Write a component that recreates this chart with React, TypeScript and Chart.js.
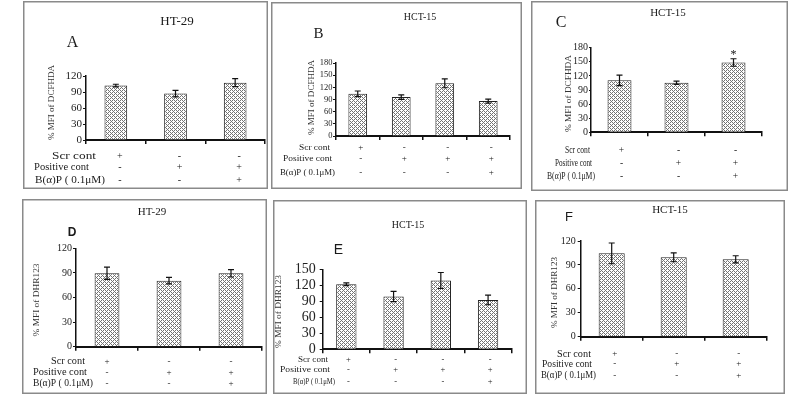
import React, { useEffect, useRef } from 'react';
import { Chart, registerables } from 'chart.js';

Chart.register(...registerables);

// ---------------- data ----------------
const rowLabels = ['Scr cont', 'Positive cont', 'B(α)P ( 0.1μM)'];

const groups3 = ['Scr cont', 'Positive cont', 'Positive cont + B(α)P'];
const groups4 = ['Scr cont', 'Positive cont', 'Positive cont ', 'Positive cont + B(α)P'];

const signs3 = [
  ['+', '-', '-'],
  ['-', '+', '+'],
  ['-', '-', '+'],
];
const signs4 = [
  ['+', '-', '-', '-'],
  ['-', '+', '+', '+'],
  ['-', '-', '-', '+'],
];

const ticks120 = [0, 30, 60, 90, 120];
const ticks150 = [0, 30, 60, 90, 120, 150];
const ticks180 = [0, 30, 60, 90, 120, 150, 180];

const titleDCF = '% MFI of DCFHDA';
const titleDHR = '% MFI of DHR123';

const valuesA = [102, 87, 107.5];
const errorsA = [2.5, 6, 7.5];
const valuesB = [104, 96, 130, 86];
const errorsB = [7, 5.5, 11, 5];
const valuesC = [110.5, 105.5, 148.5];
const errorsC = [11, 3.5, 8];
const starsC = ['', '', '*'];
const valuesD = [89.5, 80.5, 89.5];
const errorsD = [7.5, 4, 4.5];
const valuesE = [122, 99, 129, 92.5];
const errorsE = [2.5, 9.5, 15, 9];
const valuesF = [104.5, 99.5, 97];
const errorsF = [13, 5.5, 4.5];

// ---------------- layout ----------------
const SERIF = '"Liberation Serif", "Times New Roman", serif';
const SANS = '"Liberation Sans", Arial, sans-serif';

type Row = { x0: number; x1: number; y: number; size?: number };
type PanelCfg = {
  letter: string;
  letterFont: string;
  letterPos: [number, number];
  cell: string;
  titlePos: [number, number];
  titleSize: number;
  yTitle: string;
  yTitlePos: [number, number];
  yTitleLen: number;
  yTitleSize: number;
  groups: string[];
  values: number[];
  errors: number[];
  stars?: string[];
  signs: string[][];
  ticks: number[];
  box: { x: number; y: number; w: number; h: number };
  plot: { l: number; r: number; t: number; b: number };
  barPct: number;
  tickFont: number;
  tickLen: number;
  tickPad: number;
  rows: Row[];
  rowSize: number;
  markerDx: number;
  markerSize: number;
};

const panels: PanelCfg[] = [
  {
    letter: 'A', letterFont: `16px ${SERIF}`, letterPos: [72.5, 43],
    cell: 'HT-29', titlePos: [177, 22], titleSize: 13,
    yTitle: titleDCF, yTitlePos: [52, 102.5], yTitleLen: 75, yTitleSize: 9,
    groups: groups3, values: valuesA, errors: errorsA, signs: signs3, ticks: ticks120,
    box: { x: 23, y: 1, w: 245, h: 188 },
    plot: { l: 86, r: 265, t: 76, b: 140 },
    barPct: 0.38, tickFont: 11, tickLen: 3, tickPad: 1,
    rows: [{ x0: 52, x1: 96, y: 156 }, { x0: 34, x1: 89, y: 167 }, { x0: 35, x1: 105, y: 180 }],
    rowSize: 10.5, markerDx: 4, markerSize: 10,
  },
  {
    letter: 'B', letterFont: `15px ${SERIF}`, letterPos: [318.5, 34],
    cell: 'HCT-15', titlePos: [420, 17], titleSize: 10,
    yTitle: titleDCF, yTitlePos: [312, 97.5], yTitleLen: 75, yTitleSize: 9,
    groups: groups4, values: valuesB, errors: errorsB, signs: signs4, ticks: ticks180,
    box: { x: 271, y: 2, w: 251, h: 187 },
    plot: { l: 336, r: 510, t: 63, b: 136 },
    barPct: 0.43, tickFont: 8.5, tickLen: 3, tickPad: 0.5,
    rows: [{ x0: 299, x1: 330, y: 148 }, { x0: 283, x1: 332, y: 159 }, { x0: 280, x1: 335, y: 173 }],
    rowSize: 9, markerDx: 3, markerSize: 9,
  },
  {
    letter: 'C', letterFont: `16px ${SERIF}`, letterPos: [561, 23],
    cell: 'HCT-15', titlePos: [668, 13], titleSize: 11,
    yTitle: titleDCF, yTitlePos: [569, 93.5], yTitleLen: 77, yTitleSize: 9,
    groups: groups3, values: valuesC, errors: errorsC, stars: starsC, signs: signs3, ticks: ticks180,
    box: { x: 531, y: 1, w: 257, h: 190 },
    plot: { l: 591, r: 762, t: 47.7, b: 132.3 },
    barPct: 0.42, tickFont: 10, tickLen: 2, tickPad: 1,
    rows: [{ x0: 565, x1: 590, y: 150.7 }, { x0: 555, x1: 592, y: 163 }, { x0: 547, x1: 595, y: 176 }],
    rowSize: 10, markerDx: 2, markerSize: 9.5,
  },
  {
    letter: 'D', letterFont: `bold 12px ${SANS}`, letterPos: [72, 233],
    cell: 'HT-29', titlePos: [152, 212], titleSize: 11,
    yTitle: titleDHR, yTitlePos: [37, 300], yTitleLen: 73, yTitleSize: 9,
    groups: groups3, values: valuesD, errors: errorsD, signs: signs3, ticks: ticks120,
    box: { x: 22, y: 199, w: 245, h: 195 },
    plot: { l: 76, r: 262, t: 248.3, b: 346.7 },
    barPct: 0.4, tickFont: 10, tickLen: 3, tickPad: 1,
    rows: [{ x0: 51, x1: 85, y: 361.7 }, { x0: 33, x1: 87, y: 372.7 }, { x0: 33, x1: 93, y: 383.3 }],
    rowSize: 9.5, markerDx: 0, markerSize: 9,
  },
  {
    letter: 'E', letterFont: `14px ${SANS}`, letterPos: [338.5, 250],
    cell: 'HCT-15', titlePos: [408, 225], titleSize: 10,
    yTitle: titleDHR, yTitlePos: [279, 311.5], yTitleLen: 73, yTitleSize: 8.5,
    groups: groups4, values: valuesE, errors: errorsE, signs: signs4, ticks: ticks150,
    box: { x: 273, y: 200, w: 254, h: 194 },
    plot: { l: 322.7, r: 511.7, t: 269.3, b: 349.3 },
    barPct: 0.43, tickFont: 14, tickLen: 3, tickPad: 4,
    rows: [{ x0: 298, x1: 328, y: 360 }, { x0: 280, x1: 330, y: 370 }, { x0: 293, x1: 335, y: 381.7, size: 7.5 }],
    rowSize: 9, markerDx: 2, markerSize: 8.5,
  },
  {
    letter: 'F', letterFont: `13px ${SANS}`, letterPos: [569, 217],
    cell: 'HCT-15', titlePos: [670, 210], titleSize: 11,
    yTitle: titleDHR, yTitlePos: [555, 292.5], yTitleLen: 71, yTitleSize: 9,
    groups: groups3, values: valuesF, errors: errorsF, signs: signs3, ticks: ticks120,
    box: { x: 535, y: 200, w: 250, h: 194 },
    plot: { l: 580.7, r: 766.7, t: 241, b: 336.7 },
    barPct: 0.42, tickFont: 10, tickLen: 3, tickPad: 2,
    rows: [{ x0: 557, x1: 591, y: 354 }, { x0: 542, x1: 592, y: 364 }, { x0: 541, x1: 596, y: 375.7 }],
    rowSize: 9.5, markerDx: 3, markerSize: 9,
  },
];

// ---------------- helpers ----------------
function makePattern(ctx: CanvasRenderingContext2D) {
  const tile = document.createElement('canvas');
  tile.width = 4;
  tile.height = 4;
  const g = tile.getContext('2d')!;
  g.fillStyle = '#ffffff';
  g.fillRect(0, 0, 4, 4);
  g.fillStyle = '#737373';
  for (let i = 0; i < 4; i++) {
    g.fillRect(i, i, 1, 1);
    g.fillRect(i, (4 - i) % 4, 1, 1);
  }
  return ctx.createPattern(tile, 'repeat')!;
}

function drawFit(ctx: CanvasRenderingContext2D, text: string, x0: number, x1: number, y: number, font: string) {
  ctx.font = font;
  const w = ctx.measureText(text).width || 1;
  const sx = (x1 - x0) / w;
  ctx.save();
  ctx.translate(x0, y);
  ctx.scale(sx, 1);
  ctx.textAlign = 'left';
  ctx.textBaseline = 'middle';
  ctx.fillText(text, 0, 0);
  ctx.restore();
}

function decorPlugin(p: PanelCfg) {
  const ox = p.box.x;
  const oy = p.box.y;
  return {
    id: 'decor' + p.letter,
    afterDatasetsDraw(chart: any) {
      const ctx: CanvasRenderingContext2D = chart.ctx;
      const ys = chart.scales.y;
      const meta = chart.getDatasetMeta(0);
      ctx.save();
      ctx.strokeStyle = '#111';
      ctx.fillStyle = '#111';
      ctx.lineWidth = 1.2;
      const cap = 3;
      meta.data.forEach((bar: any, i: number) => {
        const v = p.values[i];
        const e = p.errors[i];
        const x = bar.x;
        const y1 = ys.getPixelForValue(v + e);
        const y2 = ys.getPixelForValue(v - e);
        ctx.beginPath();
        ctx.moveTo(x, y1);
        ctx.lineTo(x, y2);
        ctx.moveTo(x - cap, y1);
        ctx.lineTo(x + cap, y1);
        ctx.moveTo(x - cap, y2);
        ctx.lineTo(x + cap, y2);
        ctx.stroke();
        if (p.stars && p.stars[i]) {
          ctx.font = `12px ${SERIF}`;
          ctx.textAlign = 'center';
          ctx.textBaseline = 'middle';
          ctx.fillText(p.stars[i], x, y1 - 4);
        }
      });
      ctx.restore();
    },
    afterDraw(chart: any) {
      const ctx: CanvasRenderingContext2D = chart.ctx;
      const xs = chart.scales.x;
      ctx.save();
      // frame
      ctx.strokeStyle = '#8a8a8a';
      ctx.lineWidth = 1.5;
      ctx.strokeRect(0.75, 0.75, p.box.w - 1.5, p.box.h - 1.5);

      ctx.fillStyle = '#1a1a1a';
      ctx.textAlign = 'center';
      ctx.textBaseline = 'middle';
      // cell line title
      ctx.font = `${p.titleSize}px ${SERIF}`;
      ctx.fillText(p.cell, p.titlePos[0] - ox, p.titlePos[1] - oy);
      // panel letter
      ctx.font = p.letterFont;
      ctx.fillText(p.letter, p.letterPos[0] - ox, p.letterPos[1] - oy);
      // y title
      ctx.save();
      ctx.fillStyle = '#333';
      ctx.font = `${p.yTitleSize}px ${SERIF}`;
      const tw = ctx.measureText(p.yTitle).width || 1;
      ctx.translate(p.yTitlePos[0] - ox, p.yTitlePos[1] - oy);
      ctx.rotate(-Math.PI / 2);
      ctx.scale(p.yTitleLen / tw, 1);
      ctx.fillText(p.yTitle, 0, 0);
      ctx.restore();
      // treatment table
      p.rows.forEach((r, ri) => {
        drawFit(ctx, rowLabels[ri], r.x0 - ox, r.x1 - ox, r.y - oy, `${r.size || p.rowSize}px ${SERIF}`);
        ctx.font = `${p.markerSize}px ${SERIF}`;
        ctx.textAlign = 'center';
        ctx.textBaseline = 'middle';
        p.signs[ri].forEach((s, ci) => {
          const x = xs.getPixelForValue(ci) + p.markerDx;
          ctx.fillText(s, x, r.y - oy);
        });
      });
      ctx.restore();
    },
  };
}

function PanelChart({ p }: { p: PanelCfg }) {
  const ref = useRef<HTMLCanvasElement>(null);
  useEffect(() => {
    const canvas = ref.current!;
    const pattern = makePattern(canvas.getContext('2d')!);
    const chart = new Chart(canvas, {
      type: 'bar',
      data: {
        labels: p.groups,
        datasets: [
          {
            data: p.values,
            backgroundColor: pattern as any,
            borderColor: '#222',
            borderWidth: 1,
            borderSkipped: 'bottom',
            categoryPercentage: 1,
            barPercentage: p.barPct,
          },
        ],
      },
      options: {
        responsive: false,
        animation: false,
        layout: {
          padding: {
            left: 0,
            top: p.plot.t - p.box.y,
            right: p.box.x + p.box.w - p.plot.r,
            bottom: p.box.y + p.box.h - p.plot.b,
          },
        },
        plugins: { legend: { display: false }, tooltip: { enabled: false } },
        scales: {
          x: {
            type: 'category',
            offset: true,
            ticks: { display: false },
            grid: {
              display: true,
              offset: true,
              drawOnChartArea: false,
              drawTicks: true,
              tickLength: 4,
              color: '#111',
              lineWidth: 1.5,
            },
            border: { display: true, color: '#111', width: 2 },
            afterFit: (s: any) => {
              s.height = 0;
            },
          },
          y: {
            min: 0,
            max: p.ticks[p.ticks.length - 1],
            afterBuildTicks: (s: any) => {
              s.ticks = p.ticks.map((v) => ({ value: v }));
            },
            ticks: {
              autoSkip: false,
              font: { family: SERIF, size: p.tickFont },
              color: '#222',
              padding: p.tickPad,
            },
            grid: { drawOnChartArea: false, drawTicks: true, tickLength: p.tickLen, color: '#111', lineWidth: 1 },
            border: { display: true, color: '#111', width: 1.5 },
            afterFit: (s: any) => {
              s.width = p.plot.l - p.box.x;
            },
          },
        },
      },
      plugins: [decorPlugin(p)],
    } as any);
    return () => chart.destroy();
  }, [p]);
  return (
    <canvas
      ref={ref}
      width={p.box.w}
      height={p.box.h}
      style={{ position: 'absolute', left: p.box.x, top: p.box.y, width: p.box.w, height: p.box.h }}
    />
  );
}

export default function App() {
  return (
    <div
      style={{
        position: 'fixed',
        left: 0,
        top: 0,
        width: 791,
        height: 396,
        background: '#ffffff',
        overflow: 'hidden',
      }}
    >
      {panels.map((p) => (
        <PanelChart key={p.letter} p={p} />
      ))}
    </div>
  );
}
